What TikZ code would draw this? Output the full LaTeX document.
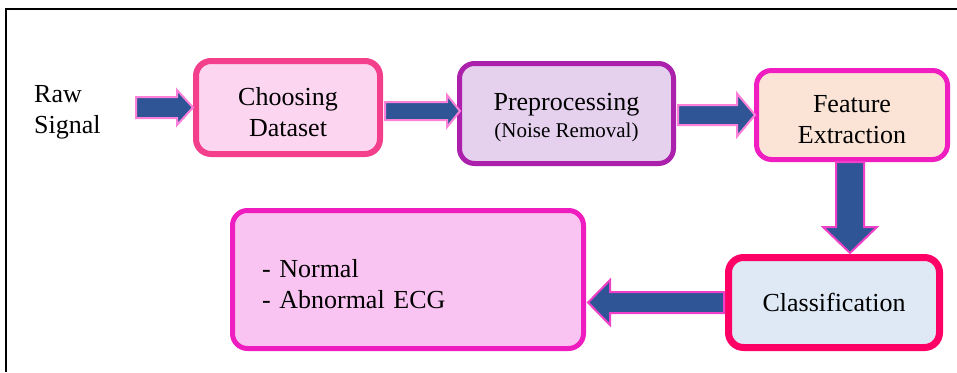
\documentclass[tikz,border=0pt]{standalone}
\usepackage{fontspec}
\setmainfont{Liberation Serif}
\usetikzlibrary{calc}
\definecolor{cdB}{HTML}{F43F8C}
\definecolor{cdF}{HTML}{FCD5F0}
\definecolor{ppB}{HTML}{AB21AC}
\definecolor{ppF}{HTML}{E5D0EE}
\definecolor{feB}{HTML}{F01EC1}
\definecolor{feF}{HTML}{FBE4D6}
\definecolor{rsB}{HTML}{EF1CC0}
\definecolor{rsF}{HTML}{F9C4F1}
\definecolor{clB}{HTML}{FF0066}
\definecolor{clF}{HTML}{DEE9F5}
\definecolor{arF}{HTML}{2F5597}
\definecolor{arB}{HTML}{FF80D8}
\definecolor{arC}{HTML}{F040C8}
\newcommand\fatarrow[6][fatarr]{%
  \coordinate (fa-s) at (#2);
  \coordinate (fa-e) at (#3);
  \coordinate (fa-h) at ($(fa-e)!#6!(fa-s)$);
  \path[#1] ($(fa-s)!#4!90:(fa-e)$) -- ($(fa-h)!#4!-90:(fa-s)$) -- ($(fa-h)!#5!-90:(fa-s)$) -- (fa-e) -- ($(fa-h)!#5!90:(fa-s)$) -- ($(fa-h)!#4!90:(fa-s)$) -- ($(fa-s)!#4!-90:(fa-e)$) -- cycle;
}
\begin{document}
\begin{tikzpicture}[x=1pt,y=-1pt,
  txt/.style={align=center, inner sep=0pt, font=\fontsize{26}{31}\selectfont},
  box/.style={rounded corners=15pt, inner sep=0pt},
  fatarr/.style={fill=arF, draw=arB, line width=2pt, line join=miter},
  fatarrb/.style={fatarr, draw=arC}]
\useasboundingbox (0,0) rectangle (957,372);
\draw[line width=2pt] (957,9) -- (6,9) -- (6,372);

\node[txt, align=left, anchor=west] (raw) at (34,112) {Raw\\Signal};
\node[box, draw=cdB, fill=cdF, line width=6pt, minimum width=184pt, minimum height=93pt,
  label={[txt, yshift=-5pt]center:Choosing\\Dataset}] (cd) at (288,107.5) {};
\node[box, draw=ppB, fill=ppF, line width=5pt, minimum width=214pt, minimum height=100pt,
  label={[txt, yshift=-4.5pt]center:Preprocessing\\[-4pt]{\fontsize{21}{25}\selectfont (Noise Removal)}}] (pp) at (566.5,113.5) {};
\node[box, draw=feB, fill=feF, line width=5pt, minimum width=191pt, minimum height=89pt,
  label={[txt, yshift=-5pt]center:Feature\\Extraction}] (fe) at (852,115) {};
\node[box, draw=rsB, fill=rsF, line width=5pt, minimum width=351pt, minimum height=138pt,
  label={[txt, align=left, text width=290pt, yshift=-5pt, xshift=-1pt]center:- Normal\\- Abnormal ECG}] (rs) at (408,279.5) {};
\node[box, draw=clB, fill=clF, line width=7pt, minimum width=211pt, minimum height=90pt,
  label={[txt]center:Classification}] (cl) at (834,302.5) {};

\coordinate (a1s) at (136,107.5);
\fatarrow{a1s}{cd.west}{10.5pt}{17.5pt}{16pt}
\fatarrow{$(cd.east)+(2,3.5)$}{$(pp.west)+(3,-2.5)$}{9pt}{16pt}{13pt}
\fatarrow{$(pp.east)+(2,1.5)$}{$(fe.west)+(1,0)$}{10pt}{21.5pt}{18pt}
\fatarrow[fatarrb]{$(fe.south)+(-2,0)$}{$(cl.north)+(16,-1)$}{14pt}{27pt}{26pt}
\fatarrow[fatarrb]{$(cl.west)+(-1,0)$}{$(rs.east |- cl.west)+(2,0)$}{10.5pt}{22.5pt}{22pt}
\end{tikzpicture}
\end{document}
